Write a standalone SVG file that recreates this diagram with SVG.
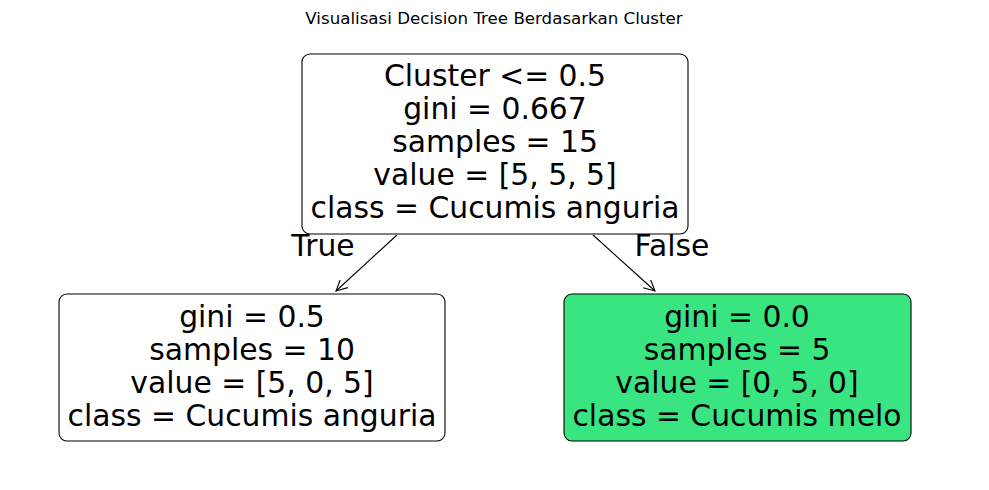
<svg xmlns="http://www.w3.org/2000/svg" width="989" height="490" viewBox="0 0 989 490">
<defs>
<style>
.box{stroke:#000;stroke-width:1.1;}
.t{font-family:"DejaVu Sans",sans-serif;font-size:29.8px;fill:#000;text-anchor:middle;}
.title{font-family:"DejaVu Sans",sans-serif;font-size:16.67px;fill:#000;text-anchor:middle;}
.edge{stroke:#000;stroke-width:1.1;fill:none;}
</style>
<marker id="arr" viewBox="0 0 12 12" refX="11" refY="6" markerWidth="12" markerHeight="12" markerUnits="userSpaceOnUse" orient="auto">
<path d="M0,0.5 L11,6 L0,11.5" fill="none" stroke="#000" stroke-width="1.1"/>
</marker>
</defs>
<rect width="989" height="490" fill="#fff"/>
<text class="title" x="494" y="24">Visualisasi Decision Tree Berdasarkan Cluster</text>
<g id="connectors">
<line class="edge" x1="397" y1="235" x2="336" y2="291" marker-end="url(#arr)"/>
<line class="edge" x1="593" y1="235" x2="655" y2="291" marker-end="url(#arr)"/>
<text class="t" x="323" y="256">True</text>
<text class="t" x="672" y="256">False</text>
</g>
<g id="root">
<rect class="box" x="302" y="54" width="386" height="180" rx="8" fill="#fff"/>
<text class="t" x="495" y="86">Cluster &lt;= 0.5</text>
<text class="t" x="495" y="119">gini = 0.667</text>
<text class="t" x="495" y="152">samples = 15</text>
<text class="t" x="495" y="185">value = [5, 5, 5]</text>
<text class="t" x="495" y="218">class = Cucumis anguria</text>
</g>
<g id="left">
<rect class="box" x="59" y="294" width="386" height="147" rx="8" fill="#fff"/>
<text class="t" x="252" y="327">gini = 0.5</text>
<text class="t" x="252" y="360">samples = 10</text>
<text class="t" x="252" y="393">value = [5, 0, 5]</text>
<text class="t" x="252" y="426">class = Cucumis anguria</text>
</g>
<g id="right">
<rect class="box" x="564" y="294" width="347" height="147" rx="8" fill="#39e581"/>
<text class="t" x="737" y="327">gini = 0.0</text>
<text class="t" x="737" y="360">samples = 5</text>
<text class="t" x="737" y="393">value = [0, 5, 0]</text>
<text class="t" x="737" y="426">class = Cucumis melo</text>
</g>
</svg>
